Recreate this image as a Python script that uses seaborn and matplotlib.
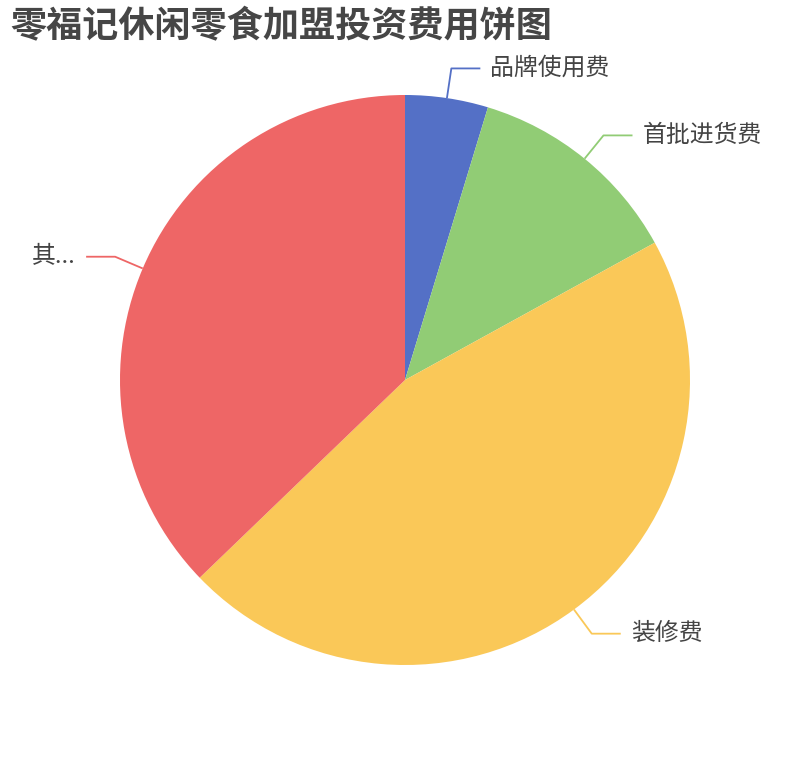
import numpy as np
import matplotlib
matplotlib.use("Agg")
import matplotlib.pyplot as plt
import seaborn as sns

# ---- data ----
categories = ["品牌使用费", "首批进货费", "装修费", "其..."]
values = [4.7, 12.3, 45.8, 37.2]
colors = ["#5470c6", "#91cc75", "#fac858", "#ee6666"]
title = "零福记休闲零食加盟投资费用饼图"

sns.set_theme(style="white")
plt.rcParams["font.family"] = ["Noto Sans CJK SC", "DejaVu Sans"]

W, H = 810, 760
fig = plt.figure(figsize=(W / 100, H / 100), dpi=100)
ax = fig.add_axes([0, 0, 1, 1])

cx, cy, R = 405, 380, 285
wedges, _ = ax.pie(values, colors=colors, startangle=-90, counterclock=True,
                   center=(cx, cy), radius=R,
                   wedgeprops=dict(linewidth=0, antialiased=True))
ax.set_xlim(0, W)
ax.set_ylim(H, 0)
ax.set_aspect("auto")
ax.axis("off")

# labels with leader lines (ECharts style)
for w, lab, col in zip(wedges, categories, colors):
    mid = np.deg2rad((w.theta1 + w.theta2) / 2)
    x0, y0 = cx + R * np.cos(mid), cy + R * np.sin(mid)
    x1, y1 = cx + (R + 30) * np.cos(mid), cy + (R + 30) * np.sin(mid)
    side = 1 if np.cos(mid) >= 0 else -1
    x2 = x1 + side * 29
    ax.plot([x0, x1, x2], [y0, y1, y1], color=col, lw=1.3, solid_capstyle="butt")
    ax.text(x2 + side * 10, y1, lab, ha="left" if side > 0 else "right",
            va="center", fontsize=17.2, color="#444444")

fig.text(10 / W, 1 - 27 / H, title, fontsize=26, fontweight="bold",
         color="#464646", ha="left", va="center")

fig.savefig("out.png", dpi=100, facecolor="white")
